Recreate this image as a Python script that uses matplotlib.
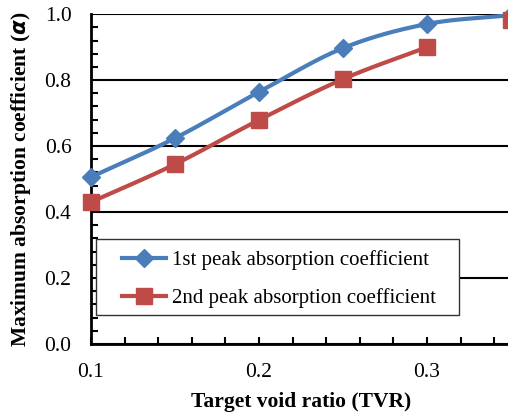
import numpy as np
import matplotlib.pyplot as plt
from matplotlib.patches import Rectangle
from matplotlib.ticker import MultipleLocator, FormatStrFormatter

plt.rcParams['font.family'] = ['Liberation Serif', 'DejaVu Serif']
plt.rcParams['mathtext.fontset'] = 'custom'

# data
tvr = [0.10, 0.15, 0.20, 0.25, 0.30, 0.35]
peak1 = [0.506, 0.624, 0.764, 0.897, 0.970, 0.997]
peak2 = [0.430, 0.545, 0.679, 0.803, 0.900, 0.982]

blue = '#4a7ebb'
red = '#be4b48'


def smooth(x, y, n=30):
    """Catmull-Rom curve through the points (like Excel's smoothed line)"""
    x = np.asarray(x, float)
    y = np.asarray(y, float)
    px = np.concatenate([[2 * x[0] - x[1]], x, [2 * x[-1] - x[-2]]])
    py = np.concatenate([[2 * y[0] - y[1]], y, [2 * y[-1] - y[-2]]])
    xs, ys = [], []
    t = np.linspace(0, 1, n)
    for i in range(1, len(px) - 2):
        for p, out in ((px, xs), (py, ys)):
            p0, p1, p2, p3 = p[i - 1], p[i], p[i + 1], p[i + 2]
            out.append(0.5 * (2 * p1 + (-p0 + p2) * t
                              + (2 * p0 - 5 * p1 + 4 * p2 - p3) * t ** 2
                              + (-p0 + 3 * p1 - 3 * p2 + p3) * t ** 3))
    return np.concatenate(xs), np.concatenate(ys)


fig = plt.figure(figsize=(5.08, 4.15), dpi=100)
# the x axis runs slightly past the right edge of the canvas
ax = fig.add_axes([0.179, 0.171, 0.827, 0.795])

sx, sy = smooth(tvr, peak1)
ax.plot(sx, sy, color=blue, lw=3, zorder=3, clip_on=False)
ax.plot(tvr, peak1, 'D', color=blue, ms=9, zorder=4, clip_on=False)
ax.plot([], [], '-D', color=blue, lw=3, ms=9, label='1st peak absorption coefficient')

sx, sy = smooth(tvr[:5], peak2[:5])
ax.plot(sx, sy, color=red, lw=3, zorder=3, clip_on=False)
ax.plot(tvr, peak2, 's', color=red, ms=11, zorder=5, clip_on=False)
ax.plot([], [], '-s', color=red, lw=3, ms=11, label='2nd peak absorption coefficient')

ax.set_xlim(0.1, 0.35)
ax.set_ylim(0, 1.0)
ax.set_xticks([0.1, 0.2, 0.3])
ax.xaxis.set_minor_locator(MultipleLocator(0.02))
ax.xaxis.set_major_formatter(FormatStrFormatter('%.1f'))
ax.yaxis.set_major_locator(MultipleLocator(0.2))
ax.yaxis.set_minor_locator(MultipleLocator(0.04))
ax.yaxis.set_major_formatter(FormatStrFormatter('%.1f'))
ax.tick_params(which='both', direction='in', labelsize=15.5, width=1.5, color='black')
ax.tick_params(which='major', length=5, pad=14)
ax.tick_params(which='minor', length=5)
ax.tick_params(axis='y', which='major', length=0, pad=14)

ax.grid(axis='y', which='major', color='black', lw=1.5, zorder=1)
for side in ('top', 'right'):
    ax.spines[side].set_visible(False)
for side in ('left', 'bottom'):
    ax.spines[side].set_linewidth(2)

ax.set_xlabel('Target void ratio (TVR)', fontsize=15.5, fontweight='bold', labelpad=7)
ax.set_ylabel(r'Maximum absorption coefficient ($\boldsymbol{\alpha}$)', fontsize=15.5,
              fontweight='bold', labelpad=8)

# legend box with wider side margins than the legend's own frame gives
ax.add_patch(Rectangle((0.012, 0.088), 0.863, 0.230, transform=ax.transAxes,
                       facecolor='white', edgecolor='#333333', lw=1, zorder=6))
leg = ax.legend(loc='center left', bbox_to_anchor=(0.075, 0.196), fontsize=15,
                frameon=False, handlelength=2.1, handletextpad=0.3, borderpad=0,
                labelspacing=0.87, borderaxespad=0)
leg.set_zorder(7)

fig.savefig('out.png', dpi=100)
